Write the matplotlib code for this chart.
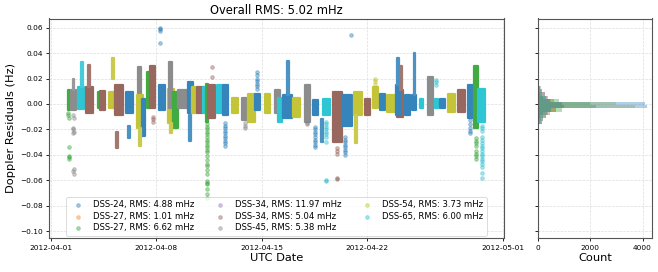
import matplotlib
matplotlib.use("Agg")
import matplotlib.pyplot as plt
import matplotlib.dates as mdates
from matplotlib.colors import to_rgb
from datetime import datetime
import numpy as np

# ---------------- data ----------------
station_labels = ["DSS-24, RMS: 4.88 mHz", "DSS-27, RMS: 1.01 mHz", "DSS-27, RMS: 6.62 mHz",
                  "DSS-34, RMS: 11.97 mHz", "DSS-34, RMS: 5.04 mHz", "DSS-45, RMS: 5.38 mHz",
                  "DSS-54, RMS: 3.73 mHz", "DSS-65, RMS: 6.00 mHz"]
station_colors = ["#1f77b4", "#ff7f0e", "#2ca02c", "#9467bd", "#8c564b", "#7f7f7f", "#bcbd22", "#17becf"]
title_text = "Overall RMS: 5.02 mHz"
start_date = datetime(2012, 4, 1)
tick_dates = [datetime(2012, 4, 1), datetime(2012, 4, 8), datetime(2012, 4, 15),
              datetime(2012, 4, 22), datetime(2012, 5, 1)]
yticks = [0.06, 0.04, 0.02, 0.00, -0.02, -0.04, -0.06, -0.08, -0.10]

# dense passes: station index, start day, end day (days since 2012-04-01), low, high residual (Hz)
pass_station = [2, 5, 7, 4, 2, 4, 6, 4, 0, 5, 6, 0, 2, 4, 0, 6, 5, 2, 5, 0,
                6, 4, 7, 2, 4, 7, 0, 6, 5, 6, 0, 6, 5, 7, 0, 6, 5, 0, 7, 4,
                0, 6, 4, 6, 0, 6, 4, 0, 0, 0, 7, 5, 7, 0, 6, 4, 0, 2, 7]
pass_t0 = [1.11, 1.33, 1.80, 2.30, 3.10, 3.25, 3.85, 4.25, 5.00, 5.75, 5.70, 6.05, 6.40, 6.60, 7.20, 7.75, 7.85, 8.10, 8.45, 9.10,
           9.35, 9.70, 10.10, 10.30, 10.45, 11.00, 11.40, 12.00, 12.70, 13.10, 13.55, 14.20, 14.90, 15.10, 15.40, 16.10, 16.90, 17.40, 18.10, 18.75,
           19.40, 20.10, 20.85, 21.40, 21.85, 22.30, 23.00, 22.95, 23.50, 24.00, 24.50, 25.05, 25.50, 25.85, 26.40, 27.05, 27.70, 28.10, 28.35]
pass_t1 = [1.26, 1.64, 2.17, 2.80, 3.30, 3.60, 4.25, 4.80, 5.45, 5.95, 6.10, 6.25, 6.60, 6.90, 7.60, 8.15, 8.05, 8.45, 9.05, 9.45,
           9.70, 10.10, 10.45, 10.45, 10.90, 11.35, 11.75, 12.40, 13.10, 13.55, 13.90, 14.55, 15.20, 15.35, 16.00, 16.55, 17.20, 17.75, 18.55, 19.35,
           20.00, 20.65, 21.20, 21.70, 22.20, 22.85, 23.40, 23.15, 23.85, 24.25, 24.70, 25.40, 25.70, 26.20, 26.85, 27.50, 28.05, 28.35, 28.85]
pass_lo = [-0.005, -0.005, -0.004, -0.007, -0.003, -0.005, -0.003, -0.009, -0.007, -0.003, -0.019, -0.025, -0.003, -0.003, -0.005, -0.015, -0.003, -0.019, -0.003, -0.007,
           -0.007, -0.007, -0.007, -0.014, -0.011, -0.007, -0.009, -0.007, -0.013, -0.014, -0.005, -0.007, -0.007, -0.014, -0.011, -0.010, -0.014, -0.009, -0.009, -0.030,
           -0.017, -0.009, -0.009, -0.003, -0.005, -0.006, -0.010, -0.009, -0.009, -0.005, -0.003, -0.009, -0.003, -0.003, -0.006, -0.006, -0.011, -0.019, -0.014]
pass_hi = [0.011, 0.011, 0.013, 0.013, 0.009, 0.010, 0.009, 0.015, 0.009, 0.029, 0.007, 0.004, 0.025, 0.030, 0.015, 0.012, 0.033, 0.009, 0.011, 0.017,
           0.013, 0.013, 0.013, 0.016, 0.015, 0.015, 0.015, 0.005, 0.005, 0.008, 0.008, 0.008, 0.011, 0.005, 0.007, 0.005, 0.015, 0.003, 0.004, 0.009,
           0.007, 0.009, 0.004, 0.013, 0.008, 0.007, 0.011, 0.015, 0.007, 0.007, 0.004, 0.021, 0.004, 0.004, 0.008, 0.011, 0.015, 0.030, 0.012]

# narrow dense columns (spikes): station, day, low, high
spike_station = [5, 7, 4, 6, 6, 4, 0, 0, 0, 0, 6, 6, 4, 0, 0]
spike_t = [1.50, 2.05, 2.55, 4.10, 5.90, 4.40, 5.20, 9.25, 15.75, 18.00, 7.95, 20.25, 23.25, 23.05, 24.15]
spike_lo = [0.011, 0.013, 0.013, 0.020, -0.033, -0.035, -0.027, -0.029, 0.007, -0.030, -0.023, -0.031, 0.011, 0.015, 0.007]
spike_hi = [0.020, 0.033, 0.031, 0.036, -0.019, -0.022, -0.017, -0.009, 0.034, -0.012, -0.015, -0.009, 0.030, 0.036, 0.040]

# sparse individual points: station, day, value
pt_station = ([2] * 7 + [5] * 9 + [4] * 3 + [0] * 4 + [2] * 24 + [4] * 2 + [0] * 10 + [5] * 3 + [0] * 7
              + [5] * 2 + [0] * 9 + [7] * 10 + [4] * 5 + [0] * 9 + [6] * 3 + [7] * 3 + [0] * 5 + [2] * 8 + [7] * 17)
pt_t = ([1.15, 1.15, 1.18, 1.20, 1.18, 1.20, 1.20]
        + [1.45, 1.50, 1.45, 1.48, 1.50, 1.47, 1.50, 1.48, 1.50]
        + [6.75, 6.75, 6.75]
        + [7.25, 7.25, 7.25, 7.25]
        + [10.35] * 24
        + [10.70, 10.70]
        + [11.55] * 10
        + [12.90] * 3
        + [13.70] * 7
        + [17.00, 17.00]
        + [17.55] * 9
        + [18.25] * 10
        + [19.00] * 5
        + [19.55] * 8 + [19.95]
        + [21.50] * 3
        + [25.60] * 3
        + [27.80] * 5
        + [28.20] * 8
        + [28.60] * 17)
pt_val = ([-0.007, -0.009, -0.011, -0.034, -0.041, -0.042, -0.043]
          + [-0.009, -0.011, -0.019, -0.020, -0.022, -0.023, -0.051, -0.053, -0.055]
          + [-0.010, -0.012, -0.014]
          + [0.048, 0.057, 0.059, 0.060]
          + [-0.016, -0.018, -0.020, -0.022, -0.024, -0.026, -0.028, -0.030, -0.032, -0.034, -0.036, -0.038,
             -0.041, -0.044, -0.047, -0.049, -0.052, -0.055, -0.061, -0.062, -0.063, -0.067, -0.071, -0.074]
          + [0.021, 0.029]
          + [-0.015, -0.017, -0.019, -0.021, -0.023, -0.025, -0.027, -0.029, -0.031, -0.033]
          + [-0.015, -0.017, -0.019]
          + [0.012, 0.014, 0.016, 0.018, 0.020, 0.023, 0.025]
          + [-0.015, -0.016]
          + [-0.018, -0.020, -0.022, -0.024, -0.026, -0.028, -0.030, -0.032, -0.034]
          + [-0.014, -0.016, -0.018, -0.020, -0.022, -0.024, -0.026, -0.030, -0.060, -0.061]
          + [-0.035, -0.037, -0.039, -0.058, -0.059]
          + [-0.026, -0.028, -0.030, -0.032, -0.034, -0.036, -0.038, -0.040, 0.054]
          + [0.016, 0.018, 0.020]
          + [0.015, 0.017, 0.019]
          + [-0.013, -0.016, -0.019, -0.021, -0.023]
          + [-0.027, -0.029, -0.031, -0.033, -0.037, -0.039, -0.041, -0.043]
          + [-0.017, -0.019, -0.021, -0.026, -0.028, -0.031, -0.033, -0.035, -0.037, -0.039,
             -0.041, -0.043, -0.045, -0.047, -0.050, -0.054, -0.058])

# histogram (counts per residual bin)
hist_edges = [-0.016, -0.0135, -0.011, -0.0085, -0.006, -0.0035, -0.001, 0.0015, 0.004, 0.0065, 0.009, 0.0115, 0.014]
hist_counts = {
    2: [80, 120, 200, 350, 900, 2200, 2000, 800, 300, 150, 80, 60],
    5: [150, 200, 300, 400, 700, 1000, 900, 500, 350, 250, 150, 100],
    4: [150, 200, 300, 450, 700, 1000, 900, 600, 400, 250, 150, 80],
    7: [100, 150, 200, 300, 500, 900, 800, 400, 250, 150, 100, 60],
    6: [20, 40, 80, 200, 700, 3700, 3000, 600, 200, 80, 30, 10],
    0: [20, 40, 90, 200, 500, 4150, 4100, 450, 180, 80, 40, 20],
}

# ---------------- plot ----------------
W, H = 658, 272
fig = plt.figure(figsize=(W / 100, H / 100), dpi=100)
ax = fig.add_axes([49 / W, 1 - 238.3 / H, 455 / W, 219.8 / H])
axh = fig.add_axes([538 / W, 1 - 238.3 / H, 114.3 / W, 219.8 / H], sharey=ax)

base = mdates.date2num(start_date)


def soft(c, f=0.9):
    r = np.array(to_rgb(c))
    return tuple(f * r + (1 - f) * np.ones(3))


for s, t0, t1, lo, hi in zip(pass_station, pass_t0, pass_t1, pass_lo, pass_hi):
    col = soft(station_colors[s])
    ax.bar(base + t0, hi - lo, width=t1 - t0, bottom=lo, align='edge',
           color=col, edgecolor=col, linewidth=1.6, joinstyle='round', zorder=2)

for s, t, lo, hi in zip(spike_station, spike_t, spike_lo, spike_hi):
    col = soft(station_colors[s], 0.8)
    ax.bar(base + t, hi - lo, width=0.12, bottom=lo, align='center',
           color=col, edgecolor=col, linewidth=1.6, joinstyle='round', zorder=2)

pt_station_a = np.array(pt_station)
pt_t_a = np.array(pt_t)
pt_val_a = np.array(pt_val)
for i, (lab, col) in enumerate(zip(station_labels, station_colors)):
    m = pt_station_a == i
    ax.scatter(base + pt_t_a[m], pt_val_a[m], s=7, facecolors=col, edgecolors=col,
               alpha=0.4, linewidths=0.6, label=lab, zorder=3)

ax.set_xlim(base - 0.13, base + 30.09)
ax.set_ylim(-0.1057, 0.0672)
ax.set_xticks([mdates.date2num(d) for d in tick_dates])
ax.xaxis.set_major_formatter(mdates.DateFormatter('%Y-%m-%d'))
ax.set_yticks(yticks)
ax.set_yticklabels([("\u2212%.2f" % -v) if v < 0 else "%.2f" % v for v in yticks])
ax.tick_params(labelsize=5.3, length=2.5, width=0.6, pad=2)
ax.grid(True, color='#dddddd', linestyle='--', linewidth=0.5, zorder=0)
ax.set_axisbelow(True)
ax.set_title(title_text, fontsize=8.3, pad=3)
ax.set_xlabel("UTC Date", fontsize=8.2, labelpad=2)
ax.set_ylabel("Doppler Residuals (Hz)", fontsize=8.2, labelpad=3)
for sp in ax.spines.values():
    sp.set_color('#555555')
    sp.set_linewidth(0.8)

leg = ax.legend(loc='lower center', ncol=3, fontsize=6.1, labelspacing=0.3,
                borderaxespad=0.3, frameon=True, handletextpad=0.8, columnspacing=2.0)
leg.get_frame().set_edgecolor('#cccccc')
leg.get_frame().set_linewidth(0.6)

# histogram
edges = np.array(hist_edges)
heights = np.diff(edges)
for s in [2, 5, 4, 7, 6, 0]:
    axh.barh(edges[:-1], hist_counts[s], height=heights, align='edge',
             color=station_colors[s], alpha=0.35, linewidth=0, zorder=2)
axh.set_xlim(0, 4370)
axh.set_xticks([0, 2000, 4000])
axh.tick_params(labelsize=5.3, length=2.5, width=0.6, pad=2, labelleft=False)
axh.grid(True, color='#dddddd', linestyle='--', linewidth=0.5, zorder=0)
axh.set_axisbelow(True)
axh.set_xlabel("Count", fontsize=8.2, labelpad=2)
for sp in axh.spines.values():
    sp.set_color('#555555')
    sp.set_linewidth(0.8)

fig.savefig("out.png", dpi=100)
